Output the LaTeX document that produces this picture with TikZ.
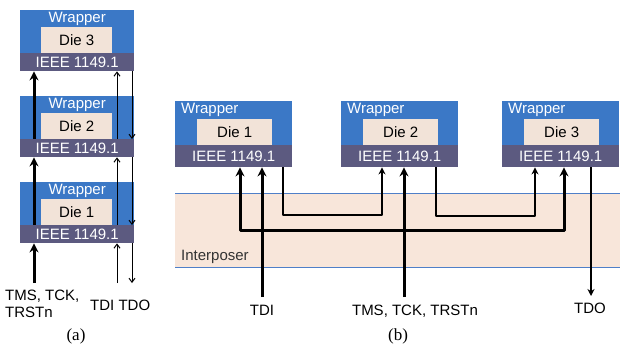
\documentclass[tikz,border=0pt]{standalone}
\usepackage{fontspec}
\setmainfont{Liberation Sans}
\newfontfamily\capfont{Liberation Serif}
\usetikzlibrary{arrows.meta}
\definecolor{wrapblue}{HTML}{3B78C6}
\definecolor{bandcol}{HTML}{5C5A80}
\definecolor{diefill}{HTML}{F2E3D8}
\definecolor{interfill}{HTML}{F8E6DA}
\definecolor{interline}{HTML}{4F7FC8}
\newcommand\diafont{\fontsize{15}{17}\selectfont}
\tikzset{
  wrapA/.style={fill=wrapblue, minimum width=114pt, minimum height=61pt, anchor=north west, inner sep=0pt},
  wrapB/.style={fill=wrapblue, minimum width=117pt, minimum height=66pt, anchor=north west, inner sep=0pt},
  dieA/.style={fill=diefill, minimum width=71pt, minimum height=26pt, anchor=north west, inner sep=0pt, font=\diafont, text=black},
  dieB/.style={fill=diefill, minimum width=75pt, minimum height=26pt, anchor=north west, inner sep=0pt, font=\diafont, text=black},
  bandA/.style={fill=bandcol, minimum width=114pt, minimum height=18pt, anchor=south west, inner sep=0pt, font=\diafont, text=white},
  bandB/.style={fill=bandcol, minimum width=117pt, minimum height=22pt, anchor=south west, inner sep=0pt, font=\diafont, text=white},
  wraptext/.style={font=\diafont, text=white, inner sep=0pt},
  lbl/.style={font=\diafont, text=black, inner sep=0pt},
  thickarr/.style={line width=3pt, -{Stealth[length=9pt,width=9pt]}, line join=round},
  medarr/.style={line width=1.8pt, -{Stealth[length=7pt,width=7pt]}, line join=round},
  thinarr/.style={line width=1pt, -{Straight Barb[length=4pt,width=6pt]}},
}
\begin{document}
\begin{tikzpicture}[x=1pt,y=-1pt]
\useasboundingbox (0,0) rectangle (620,349);

% ---------------- (a) ----------------
\foreach \n/\y in {3/10,2/96,1/182}{
  \node[wrapA] (wrapA\n) at (20,\y) {};
  \node[wraptext] at ([yshift=-9pt]wrapA\n.north) {Wrapper};
  \node[dieA] (dieA\n) at (41,\y+17) {Die \n};
  \node[bandA] (bandA\n) at (wrapA\n.south west) {IEEE 1149.1};
}
\coordinate (ta0) at (34,283);
\coordinate (ua0) at (117,283);
\coordinate (da0) at (132,283);
\draw[thickarr] (ta0) -- (ta0 |- bandA1.south);
\draw[thickarr] (bandA1.north -| ta0) -- (bandA2.south -| ta0);
\draw[thickarr] (bandA2.north -| ta0) -- (bandA3.south -| ta0);
\draw[thinarr] (ua0) -- (ua0 |- bandA1.south);
\draw[thinarr] (bandA1.north -| ua0) -- (bandA2.south -| ua0);
\draw[thinarr] (bandA2.north -| ua0) -- (bandA3.south -| ua0);
\draw[thinarr] (bandA3.south -| da0) -- (bandA2.north -| da0);
\draw[thinarr] (bandA2.south -| da0) -- (bandA1.north -| da0);
\draw[thinarr] (bandA1.south -| da0) -- (da0);

\node[lbl, anchor=base west] (tmsA) at (5,300) {TMS, TCK,};
\node[lbl, anchor=base west] (trstA) at (5,317) {TRSTn};
\node[lbl, anchor=base west] (tdiA) at (90,310) {TDI TDO};
\node[font=\capfont\fontsize{17}{20}\selectfont, inner sep=0pt] (capA) at (76,336) {(a)};

% ---------------- (b) ----------------
\node[fill=interfill, minimum width=445pt, minimum height=74pt, anchor=north west, inner sep=0pt] (interp) at (175,193) {};
\draw[interline, line width=1pt] (interp.north west) -- (interp.north east);
\draw[interline, line width=1pt] (interp.south west) -- (interp.south east);
\node[lbl, text=black!80, anchor=west] (interptext) at (181,257) {Interposer};

\foreach \n/\x in {1/175,2/341,3/502}{
  \node[wrapB] (wrapB\n) at (\x,101) {};
  \node[wraptext, anchor=west] at ([xshift=6pt,yshift=-9pt]wrapB\n.north west) {Wrapper};
  \node[dieB] (dieB\n) at (\x+22,119) {Die \n};
  \node[bandB] (bandB\n) at (wrapB\n.south west) {IEEE 1149.1};
}

\coordinate (tdi) at (262,297);
\coordinate (tms) at (404,297);
\coordinate (hj) at (404,230);
\coordinate (c1x) at (240,230);
\coordinate (c3x) at (564,230);
\coordinate (s12) at (283,215);
\coordinate (e12) at (382,215);
\coordinate (s23) at (436,216);
\coordinate (e23) at (535,216);
\coordinate (tdo) at (591,296);

\draw[medarr] (bandB1.south -| s12) -- (s12) -- (e12) -- (e12 |- bandB2.south);
\draw[medarr] (bandB2.south -| s23) -- (s23) -- (e23) -- (e23 |- bandB3.south);
\draw[thickarr] (hj) -- (c1x) -- (c1x |- bandB1.south);
\draw[thickarr] (hj) -- (c3x) -- (c3x |- bandB3.south);
\draw[thickarr] (tdi) -- (tdi |- bandB1.south);
\draw[thickarr] (tms) -- (tms |- bandB2.south);
\draw[medarr] (bandB3.south -| tdo) -- (tdo);

\node[lbl, anchor=base] (tdiB) at (262,315) {TDI};
\node[lbl, anchor=base] (tmsB) at (415,315) {TMS, TCK, TRSTn};
\node[lbl, anchor=base] (tdoB) at (590,313) {TDO};
\node[font=\capfont\fontsize{17}{20}\selectfont, inner sep=0pt] (capB) at (398,336) {(b)};
\end{tikzpicture}
\end{document}
